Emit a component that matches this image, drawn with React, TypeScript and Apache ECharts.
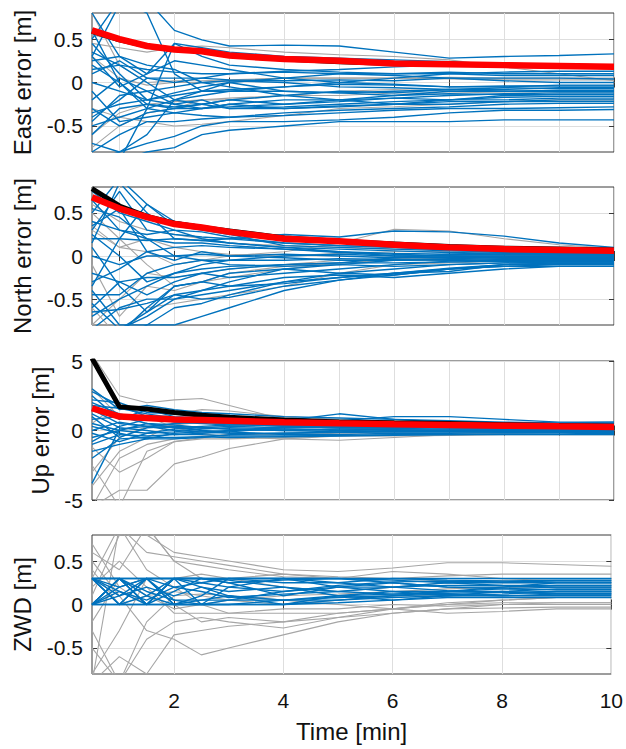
import React, { useEffect, useRef } from 'react';
import * as echarts from 'echarts';

// ---------- data ----------
const TIME = [0.5, 1, 1.5, 2, 2.5, 3, 4, 5, 6, 7, 8, 9, 10];

const X_TICKS_FINE = [1, 2, 3, 4, 5, 6, 7, 8, 9, 10];
const X_TICKS_COARSE = [2, 4, 6, 8, 10];
const Y_TICKS_SMALL = [-0.5, 0, 0.5];
const Y_TICKS_UP = [-5, 0, 5];

const PANEL_NAMES = ['East error [m]', 'North error [m]', 'Up error [m]', 'ZWD [m]'];
const X_NAME = 'Time [min]';

const EAST_BLUE = [
  [0.3, 0.9, 0.95, 0.6, 0.49, 0.42, 0.43, 0.42, 0.35, 0.28, 0.3, 0.31, 0.33],
  [0.8, 0.3, 0.1, 0.45, 0.4, 0.35, 0.3, 0.28, 0.26, 0.24, 0.2, 0.2, 0.2],
  [0.35, 0.2, 0.15, 0.12, 0.1, 0.1, 0.13, 0.15, 0.18, 0.2, 0.2, 0.19, 0.2],
  [0.2, 0.0, -0.3, -0.2, -0.15, -0.1, -0.05, 0.0, 0.05, 0.1, 0.12, 0.13, 0.13],
  [0.1, 0.25, 0.05, 0.05, 0.05, 0.03, 0.02, 0.03, 0.02, 0.05, 0.05, 0.05, 0.04],
  [-0.4, -0.2, 0.05, 0.0, 0.05, 0.1, 0.12, 0.1, 0.08, 0.05, 0.02, 0.0, 0.0],
  [0.0, -0.1, -0.2, -0.15, -0.1, -0.08, -0.05, -0.02, -0.03, -0.05, -0.04, -0.04, -0.04],
  [-0.6, -0.3, -0.25, -0.3, -0.25, -0.2, -0.15, -0.1, -0.12, -0.08, -0.06, -0.07, -0.07],
  [0.45, 0.1, -0.2, -0.25, -0.3, -0.25, -0.2, -0.2, -0.15, -0.1, -0.1, -0.1, -0.1],
  [-0.3, -0.5, -0.35, -0.3, -0.3, -0.28, -0.25, -0.22, -0.18, -0.15, -0.13, -0.12, -0.12],
  [-0.7, -0.8, -0.6, -0.2, -0.1, 0.0, -0.1, -0.12, -0.15, -0.13, -0.14, -0.14, -0.14],
  [0.6, 0.0, -0.25, -0.28, -0.25, -0.2, -0.25, -0.2, -0.18, -0.2, -0.17, -0.16, -0.16],
  [-0.2, 0.05, -0.1, -0.25, -0.2, -0.3, -0.28, -0.25, -0.22, -0.2, -0.2, -0.18, -0.18],
  [-0.5, -0.4, -0.3, -0.35, -0.3, -0.25, -0.3, -0.28, -0.25, -0.22, -0.22, -0.2, -0.2],
  [0.15, 0.2, 0.0, -0.2, -0.25, -0.3, -0.3, -0.27, -0.25, -0.25, -0.22, -0.22, -0.22],
  [-0.1, -0.45, -0.4, -0.35, -0.38, -0.4, -0.35, -0.32, -0.3, -0.28, -0.25, -0.24, -0.24],
  [-0.8, -0.6, -0.45, -0.45, -0.42, -0.4, -0.38, -0.35, -0.32, -0.3, -0.3, -0.29, -0.28],
  [-0.9, -0.8, -0.7, -0.62, -0.5, -0.45, -0.45, -0.43, -0.4, -0.35, -0.32, -0.32, -0.31],
  [-1.0, -0.9, -0.8, -0.75, -0.6, -0.55, -0.5, -0.45, -0.45, -0.45, -0.43, -0.43, -0.43],
  [0.3, -0.05, 0.1, 0.25, 0.2, 0.15, 0.05, 0.0, -0.02, -0.05, -0.05, -0.03, -0.03],
  [-0.35, -0.25, -0.2, -0.12, -0.05, 0.0, 0.05, 0.1, 0.1, 0.12, 0.1, 0.1, 0.1],
  [0.25, 0.3, 0.2, 0.15, 0.0, -0.05, -0.15, -0.2, -0.25, -0.2, -0.15, -0.14, -0.14],
  [0.5, 0.95, 0.8, 0.1, -0.1, -0.1, -0.1, -0.12, -0.1, -0.08, -0.1, -0.09, -0.09],
  [-0.45, -0.15, -0.1, -0.05, 0.0, 0.02, 0.0, -0.05, -0.06, -0.08, -0.08, -0.06, -0.06],
  [-1.2, -0.9, -0.3, 0.45, 0.3, 0.2, 0.15, 0.12, 0.1, 0.1, 0.08, 0.08, 0.08],
];
const EAST_GRAY = [
  [0.55, 0.47, 0.42, 0.38, 0.36, 0.32, 0.27, 0.25, 0.23, 0.22, 0.2, 0.19, 0.18],
  [0.8, 0.2, 0.0, 0.02, 0.02, 0.03, 0.05, 0.05, 0.05, 0.04, 0.03, 0.03, 0.03],
  [0.3, 0.05, -0.03, 0.0, 0.0, 0.02, 0.05, 0.05, 0.05, 0.06, 0.05, 0.05, 0.05],
  [-0.3, -0.4, -0.45, -0.5, -0.48, -0.45, -0.38, -0.3, -0.28, -0.25, -0.22, -0.2, -0.2],
  [-0.6, -0.35, -0.25, -0.22, -0.2, -0.18, -0.15, -0.1, -0.08, -0.1, -0.1, -0.1, -0.1],
  [0.45, 0.4, 0.35, 0.4, 0.42, 0.4, 0.35, 0.32, 0.3, 0.26, 0.18, 0.1, 0.02],
  [-0.75, -0.5, -0.35, -0.3, -0.2, -0.2, -0.15, -0.15, -0.12, -0.12, -0.11, -0.11, -0.11],
];
const EAST_BLACK = [0.59, 0.49, 0.42, 0.38, 0.36, 0.31, 0.27, 0.24, 0.22, 0.21, 0.2, 0.19, 0.18];
const EAST_RED = [0.6, 0.5, 0.42, 0.38, 0.36, 0.31, 0.27, 0.25, 0.22, 0.21, 0.2, 0.19, 0.18];

const NORTH_BLUE = [
  [0.5, 0.9, 0.6, 0.4, 0.35, 0.3, 0.22, 0.17, 0.15, 0.12, 0.1, 0.08, 0.08],
  [0.15, 0.85, 0.5, 0.2, 0.18, 0.2, 0.25, 0.22, 0.29, 0.28, 0.23, 0.15, 0.1],
  [-0.35, 0.2, 0.6, 0.35, 0.3, 0.25, 0.12, 0.1, 0.08, 0.06, 0.05, 0.05, 0.05],
  [0.4, 0.3, 0.25, 0.3, 0.2, 0.15, 0.1, 0.08, 0.06, 0.04, 0.03, 0.03, 0.03],
  [0.65, 0.3, 0.2, 0.15, 0.15, 0.12, 0.08, 0.05, 0.03, 0.02, 0.02, 0.02, 0.02],
  [0.2, 0.2, 0.18, 0.2, 0.18, 0.15, 0.1, 0.05, 0.0, 0.0, 0.0, 0.0, 0.0],
  [0.0, -0.1, 0.0, 0.0, 0.02, 0.0, 0.02, 0.0, -0.02, -0.02, -0.01, 0.0, 0.0],
  [-0.45, -0.45, -0.2, -0.1, -0.05, -0.05, 0.0, 0.02, 0.0, 0.0, -0.02, -0.03, -0.03],
  [0.25, 0.0, -0.3, -0.2, -0.1, -0.05, -0.05, -0.03, -0.04, -0.05, -0.05, -0.05, -0.05],
  [-0.6, -0.3, -0.45, -0.3, -0.2, -0.15, -0.1, -0.08, -0.08, -0.07, -0.06, -0.06, -0.06],
  [-0.85, -0.6, -0.5, -0.5, -0.4, -0.3, -0.15, -0.1, -0.12, -0.1, -0.08, -0.08, -0.08],
  [-0.95, -0.85, -0.7, -0.5, -0.45, -0.4, -0.3, -0.25, -0.2, -0.15, -0.12, -0.1, -0.1],
  [-0.65, -0.62, -0.55, -0.45, -0.5, -0.48, -0.35, -0.28, -0.22, -0.15, -0.12, -0.12, -0.12],
  [-1.0, -0.9, -0.6, -0.35, -0.3, -0.35, -0.32, -0.25, -0.2, -0.18, -0.1, -0.08, -0.08],
  [-0.4, -0.8, -0.8, -0.6, -0.55, -0.45, -0.3, -0.2, -0.15, -0.1, -0.08, -0.07, -0.07],
  [0.55, 0.45, 0.2, 0.0, -0.05, -0.1, -0.12, -0.1, -0.05, -0.03, -0.02, -0.02, -0.02],
  [-0.2, -0.3, -0.25, -0.25, -0.2, -0.25, -0.2, -0.15, -0.1, -0.06, -0.04, -0.04, -0.04],
  [0.3, 0.75, 0.3, 0.25, 0.22, 0.2, 0.15, 0.12, 0.1, 0.08, 0.07, 0.06, 0.06],
  [-0.7, -0.5, -0.35, -0.2, -0.15, -0.12, -0.1, -0.08, -0.02, 0.02, 0.04, 0.05, 0.05],
  [0.1, -0.35, -0.65, -0.35, -0.3, -0.2, -0.15, -0.2, -0.22, -0.15, -0.1, -0.1, -0.1],
  [-0.55, -0.85, -0.65, -0.45, -0.4, -0.35, -0.25, -0.22, -0.25, -0.2, -0.15, -0.12, -0.12],
  [0.75, 0.5, 0.4, 0.3, 0.28, 0.22, 0.15, 0.12, 0.1, 0.07, 0.05, 0.05, 0.05],
  [-0.3, -0.15, 0.05, 0.1, 0.12, 0.1, 0.08, 0.04, 0.02, 0.0, 0.0, 0.0, 0.0],
  [0.35, 0.55, 0.05, -0.05, 0.05, 0.0, -0.02, -0.05, -0.05, -0.04, -0.03, -0.02, -0.02],
  [-1.1, -0.95, -0.8, -0.8, -0.7, -0.6, -0.4, -0.28, -0.2, -0.14, -0.1, -0.09, -0.09],
];
const NORTH_GRAY = [
  [0.3, 0.1, 0.05, -0.1, -0.05, 0.0, 0.05, 0.15, 0.31, 0.29, 0.2, 0.13, 0.09],
  [0.5, 0.2, -0.1, -0.35, -0.3, -0.25, -0.15, -0.08, -0.05, -0.02, 0.0, 0.0, 0.0],
  [-0.8, -0.5, -0.2, -0.25, -0.2, -0.15, -0.1, -0.05, -0.03, -0.02, -0.02, -0.02, -0.02],
  [-0.6, -0.95, -0.6, -0.55, -0.5, -0.45, -0.35, -0.2, -0.1, -0.08, -0.06, -0.06, -0.06],
  [0.35, 0.1, 0.2, 0.1, 0.05, 0.02, 0.0, 0.03, 0.05, 0.05, 0.05, 0.05, 0.05],
  [-0.1, -0.7, -0.35, -0.4, -0.3, -0.2, -0.12, -0.08, -0.05, -0.05, -0.04, -0.04, -0.04],
  [0.6, 0.4, 0.3, 0.25, 0.2, 0.15, 0.12, 0.1, 0.08, 0.07, 0.06, 0.05, 0.05],
];
const NORTH_BLACK = [0.78, 0.58, 0.46, 0.38, 0.33, 0.29, 0.21, 0.17, 0.14, 0.11, 0.09, 0.08, 0.07];
const NORTH_RED = [0.68, 0.55, 0.45, 0.37, 0.33, 0.28, 0.2, 0.17, 0.13, 0.1, 0.08, 0.07, 0.06];

const UP_BLUE = [
  [3.0, 1.5, 1.8, 1.5, 1.3, 1.2, 1.0, 0.9, 0.8, 0.7, 0.6, 0.55, 0.6],
  [2.5, 0.8, 1.5, 1.0, 0.9, 0.8, 0.7, 1.2, 0.8, 0.6, 0.4, 0.45, 0.5],
  [2.0, 1.2, 0.8, 0.7, 0.6, 0.5, 0.4, 0.3, 0.35, 0.3, 0.3, 0.35, 0.4],
  [1.5, 0.5, 0.3, 0.5, 0.6, 0.5, 0.3, 0.2, 0.2, 0.25, 0.2, 0.2, 0.2],
  [1.0, -0.5, 0.2, 0.3, 0.2, 0.1, 0.0, 0.1, 0.1, 0.1, 0.1, 0.1, 0.1],
  [0.5, 0.0, -0.2, 0.1, 0.2, 0.1, 0.0, -0.1, 0.0, 0.0, 0.05, 0.0, 0.0],
  [0.0, 0.6, 0.3, 0.0, -0.1, -0.2, -0.2, -0.1, -0.1, -0.1, -0.1, -0.05, -0.05],
  [-0.5, 0.0, 0.5, 0.2, 0.0, -0.1, -0.3, -0.3, -0.2, -0.2, -0.15, -0.15, -0.15],
  [-1.0, -0.3, -0.4, -0.3, -0.3, -0.4, -0.4, -0.35, -0.3, -0.3, -0.25, -0.25, -0.2],
  [-2.0, -0.6, -0.5, -0.5, -0.45, -0.5, -0.45, -0.4, -0.35, -0.3, -0.3, -0.3, -0.3],
  [-3.8, 0.1, 0.3, 0.2, 0.3, 0.4, 0.5, 0.4, 0.3, 0.3, 0.3, 0.25, 0.25],
  [1.8, 1.6, 1.2, 0.9, 0.8, 0.7, 0.6, 0.5, 0.5, 0.45, 0.4, 0.35, 0.35],
  [0.8, 1.0, 0.5, 0.4, 0.2, 0.3, 0.2, 0.25, 0.3, 0.2, 0.15, 0.15, 0.15],
  [-0.2, -0.8, -0.2, -0.1, 0.1, 0.2, 0.1, 0.0, -0.05, -0.05, 0.0, 0.0, 0.0],
  [2.2, 2.0, 1.3, 1.2, 1.0, 0.9, 0.8, 0.7, 1.0, 1.0, 0.8, 0.6, 0.6],
  [-1.5, -1.0, -0.6, -0.2, -0.1, 0.0, 0.1, 0.1, 0.05, 0.0, -0.05, -0.05, -0.05],
  [1.2, 0.2, 0.0, -0.3, -0.2, -0.1, 0.2, 0.3, 0.35, 0.3, 0.25, 0.2, 0.2],
  [0.3, -0.2, -0.6, -0.6, -0.5, -0.3, -0.2, -0.15, -0.1, -0.1, -0.1, -0.1, -0.1],
  [2.8, 1.8, 1.0, 0.6, 0.5, 0.4, 0.35, 0.3, 0.25, 0.2, 0.15, 0.1, 0.1],
  [-0.8, 0.3, 0.8, 0.9, 0.7, 0.5, 0.3, 0.2, 0.15, 0.1, 0.1, 0.05, 0.05],
];
const UP_GRAY = [
  [5.5, 2.5, 2.0, 2.2, 2.3, 1.8, 0.8, 0.6, 0.5, 0.4, 0.35, 0.3, 0.3],
  [-5.5, -4.3, -4.3, -2.4, -1.9, -1.3, -0.6, -0.4, -0.3, -0.2, -0.2, -0.1, -0.1],
  [-2.5, -5.5, -1.5, -0.8, -0.5, -0.3, -0.3, -0.2, -0.2, -0.2, -0.1, -0.1, -0.1],
  [-4.0, -1.5, -0.5, 0.5, 0.6, 0.5, 0.4, 0.3, 0.25, 0.2, 0.2, 0.2, 0.2],
  [-1.2, -3.0, -2.0, -0.8, -0.6, -0.6, -0.5, -0.4, -0.4, -0.35, -0.3, -0.3, -0.3],
  [3.0, 1.0, 0.8, 1.2, 1.5, 1.4, 1.0, 0.8, 0.6, 0.5, 0.4, 0.3, 0.3],
  [-3.0, -0.5, 0.3, 0.4, 0.6, 0.8, 0.9, 0.6, 0.4, 0.3, 0.3, 0.2, 0.2],
  [0.5, 2.0, 1.0, 0.2, -0.2, -0.5, -0.6, -0.7, -0.5, -0.3, -0.2, -0.15, -0.15],
  [-5.5, -2.0, -1.0, -0.6, -0.4, -0.3, -0.2, -0.1, -0.1, -0.05, 0.0, 0.0, 0.0],
];
const UP_BLACK = [5.2, 1.7, 1.55, 1.3, 1.1, 0.95, 0.75, 0.62, 0.55, 0.5, 0.42, 0.36, 0.3];
const UP_RED = [1.6, 1.0, 0.9, 0.8, 0.75, 0.7, 0.6, 0.52, 0.45, 0.4, 0.35, 0.3, 0.26];

const ZWD_BLUE = [
  [0.0, 0.3, 0.3, 0.3, 0.3, 0.3, 0.3, 0.3, 0.3, 0.3, 0.3, 0.3, 0.3],
  [0.3, 0.0, 0.3, 0.0, 0.0, 0.0, 0.0, 0.05, 0.1, 0.12, 0.1, 0.1, 0.1],
  [0.0, 0.0, 0.0, 0.0, 0.0, 0.0, 0.0, 0.02, 0.05, 0.08, 0.08, 0.08, 0.08],
  [0.3, 0.3, 0.0, 0.3, 0.25, 0.3, 0.3, 0.3, 0.28, 0.25, 0.25, 0.25, 0.25],
  [0.0, 0.3, 0.0, 0.0, 0.05, 0.1, 0.0, 0.1, 0.15, 0.15, 0.18, 0.2, 0.2],
  [0.3, 0.1, 0.2, 0.1, 0.2, 0.15, 0.2, 0.15, 0.12, 0.15, 0.15, 0.12, 0.12],
  [0.0, 0.2, 0.3, 0.2, 0.25, 0.2, 0.3, 0.2, 0.2, 0.22, 0.22, 0.22, 0.22],
  [0.3, 0.15, 0.0, 0.15, 0.3, 0.25, 0.1, 0.2, 0.25, 0.2, 0.18, 0.17, 0.17],
  [0.0, 0.3, 0.15, 0.05, 0.0, 0.05, 0.15, 0.2, 0.15, 0.1, 0.12, 0.15, 0.15],
  [0.3, 0.0, 0.1, 0.3, 0.3, 0.28, 0.2, 0.1, 0.05, 0.1, 0.15, 0.18, 0.18],
  [0.0, 0.1, 0.3, 0.0, 0.1, 0.3, 0.25, 0.25, 0.3, 0.28, 0.27, 0.28, 0.28],
  [0.3, 0.3, 0.3, 0.05, 0.05, 0.05, 0.05, 0.05, 0.08, 0.1, 0.1, 0.12, 0.12],
  [0.0, 0.15, 0.05, 0.2, 0.15, 0.08, 0.12, 0.15, 0.2, 0.25, 0.22, 0.2, 0.2],
  [0.3, 0.2, 0.3, 0.3, 0.2, 0.1, 0.05, 0.08, 0.1, 0.15, 0.2, 0.25, 0.25],
  [0.0, 0.0, 0.3, 0.3, 0.3, 0.25, 0.28, 0.3, 0.25, 0.2, 0.2, 0.22, 0.22],
  [0.3, 0.3, 0.1, 0.0, 0.0, 0.0, 0.05, 0.1, 0.12, 0.13, 0.14, 0.15, 0.15],
  [0.0, 0.3, 0.0, 0.3, 0.0, 0.2, 0.15, 0.22, 0.26, 0.27, 0.26, 0.27, 0.27],
  [0.3, 0.0, 0.0, 0.3, 0.3, 0.3, 0.3, 0.25, 0.2, 0.16, 0.14, 0.13, 0.13],
];
const ZWD_GRAY = [
  [0.9, 1.0, 0.8, 0.6, 0.55, 0.5, 0.4, 0.38, 0.42, 0.48, 0.48, 0.46, 0.44],
  [0.6, 0.4, 0.9, 0.5, 0.45, 0.4, 0.32, 0.3, 0.38, 0.35, 0.3, 0.3, 0.3],
  [0.3, 0.9, 0.6, 0.55, 0.5, 0.45, 0.35, 0.3, 0.3, 0.33, 0.35, 0.35, 0.35],
  [-0.9, 0.9, 0.4, 0.2, 0.0, -0.1, -0.1, -0.1, -0.05, 0.0, 0.05, 0.08, 0.08],
  [-0.8, -0.3, 0.3, 0.0, -0.2, -0.15, -0.2, -0.1, -0.05, 0.02, 0.05, 0.08, 0.08],
  [0.5, 0.1, -0.3, -0.4, -0.58, -0.5, -0.35, -0.2, -0.1, -0.05, 0.0, 0.02, 0.02],
  [-0.5, -0.9, -0.4, -0.2, -0.15, -0.2, -0.27, -0.15, -0.05, 0.0, 0.02, 0.02, 0.02],
  [0.2, 0.5, 0.2, -0.1, -0.1, -0.1, -0.05, -0.05, 0.0, -0.02, 0.0, 0.0, 0.0],
  [-0.2, 0.3, 0.1, -0.05, 0.0, 0.05, 0.1, 0.12, 0.15, 0.18, 0.2, 0.2, 0.2],
  [0.7, 0.2, 0.0, 0.3, 0.35, 0.3, 0.2, 0.15, 0.2, 0.25, 0.28, 0.3, 0.3],
  [-0.9, -0.6, -0.8, -0.35, -0.3, -0.25, -0.2, -0.15, -0.1, -0.05, -0.04, -0.03, -0.03],
  [0.1, 0.8, 0.9, 0.5, 0.3, 0.3, 0.35, 0.32, 0.3, 0.27, 0.25, 0.25, 0.25],
  [-0.3, -0.9, -0.2, 0.1, 0.12, 0.1, 0.05, 0.0, -0.05, -0.1, -0.08, -0.05, -0.05],
  [0.4, 0.0, 0.1, 0.15, 0.1, 0.05, 0.0, 0.05, 0.1, 0.1, 0.1, 0.1, 0.1],
];

// ---------- styling / layout ----------
const FONT = '"Liberation Sans", Arial, Helvetica, sans-serif';
const BLUE = '#0072BD';
const GRAY = '#a6a6a6';
const AXIS = '#3a3a3a';
const GRID = '#dedede';
const TEXT = '#111';

type Panel = {
  name: string;
  blue: number[][];
  gray: number[][];
  black: number[] | null;
  red: number[] | null;
  yMin: number;
  yMax: number;
  yTicks: number[];
  xTicks: number[];
  nameGap: number;
  top: number;
  height: number;
};

const PANELS: Panel[] = [
  { name: PANEL_NAMES[0], blue: EAST_BLUE, gray: EAST_GRAY, black: EAST_BLACK, red: EAST_RED, yMin: -0.8, yMax: 0.8, yTicks: Y_TICKS_SMALL, xTicks: X_TICKS_FINE, nameGap: 58, top: 13, height: 139 },
  { name: PANEL_NAMES[1], blue: NORTH_BLUE, gray: NORTH_GRAY, black: NORTH_BLACK, red: NORTH_RED, yMin: -0.8, yMax: 0.8, yTicks: Y_TICKS_SMALL, xTicks: X_TICKS_FINE, nameGap: 58, top: 187, height: 138 },
  { name: PANEL_NAMES[2], blue: UP_BLUE, gray: UP_GRAY, black: UP_BLACK, red: UP_RED, yMin: -5, yMax: 5, yTicks: Y_TICKS_UP, xTicks: X_TICKS_FINE, nameGap: 40, top: 361, height: 139 },
  { name: PANEL_NAMES[3], blue: ZWD_BLUE, gray: ZWD_GRAY, black: null, red: null, yMin: -0.8, yMax: 0.8, yTicks: Y_TICKS_SMALL, xTicks: X_TICKS_COARSE, nameGap: 58, top: 535, height: 139 },
];

function toPoints(vals: number[]) {
  return TIME.map((t, k) => [t, vals[k]]);
}

function buildOption() {
  const grid: any[] = [];
  const xAxis: any[] = [];
  const yAxis: any[] = [];
  const series: any[] = [];

  PANELS.forEach((p, i) => {
    grid.push({
      left: 92,
      right: 12,
      top: p.top,
      height: p.height,
      show: true,
      borderColor: AXIS,
      borderWidth: 1,
      backgroundColor: '#fff',
      containLabel: false,
    });
    const isLast = i === PANELS.length - 1;
    const tick = { show: true, inside: true, length: 5, lineStyle: { color: AXIS, width: 1 }, customValues: p.xTicks };
    xAxis.push({
      type: 'value',
      gridIndex: i,
      min: 0.5,
      max: 10,
      position: 'bottom',
      axisLine: { show: false },
      axisTick: tick,
      axisLabel: {
        show: isLast,
        customValues: p.xTicks,
        fontSize: 21,
        fontFamily: FONT,
        color: TEXT,
        margin: 16,
      },
      splitLine: { show: true, lineStyle: { color: GRID, width: 1 } },
      name: isLast ? X_NAME : '',
      nameLocation: 'middle',
      nameGap: 45,
      nameTextStyle: { fontSize: 24, fontFamily: FONT, color: TEXT },
    });
    xAxis.push({
      type: 'value',
      gridIndex: i,
      min: 0.5,
      max: 10,
      position: 'top',
      axisLine: { show: false },
      axisTick: tick,
      axisLabel: { show: false },
      splitLine: { show: false },
    });
    const ytick = { show: true, inside: true, length: 5, lineStyle: { color: AXIS, width: 1 }, customValues: p.yTicks };
    yAxis.push({
      type: 'value',
      gridIndex: i,
      min: p.yMin,
      max: p.yMax,
      position: 'left',
      axisLine: { show: false },
      axisTick: ytick,
      axisLabel: {
        show: true,
        customValues: p.yTicks,
        fontSize: 21,
        fontFamily: FONT,
        color: TEXT,
        margin: 9,
      },
      splitLine: { show: true, lineStyle: { color: GRID, width: 1 } },
      name: p.name,
      nameLocation: 'middle',
      nameGap: p.nameGap,
      nameRotate: 90,
      nameTextStyle: { fontSize: 24, fontFamily: FONT, color: TEXT },
    });
    yAxis.push({
      type: 'value',
      gridIndex: i,
      min: p.yMin,
      max: p.yMax,
      position: 'right',
      axisLine: { show: false },
      axisTick: ytick,
      axisLabel: { show: false },
      splitLine: { show: false },
    });

    const xi = i * 2;
    const yi = i * 2;
    const common = { type: 'line', xAxisIndex: xi, yAxisIndex: yi, showSymbol: false, symbol: 'none', silent: true, clip: true };
    p.gray.forEach((vals) => {
      series.push({ ...common, data: toPoints(vals), z: 2, lineStyle: { color: GRAY, width: 1.1 } });
    });
    p.blue.forEach((vals) => {
      series.push({ ...common, data: toPoints(vals), z: 3, lineStyle: { color: BLUE, width: 1.4 } });
    });
    if (p.black) {
      series.push({ ...common, data: toPoints(p.black), z: 4, lineStyle: { color: '#000', width: 5 } });
    }
    if (p.red) {
      series.push({ ...common, data: toPoints(p.red), z: 5, lineStyle: { color: '#ff0000', width: 6.5 } });
    }
  });

  return {
    animation: false,
    backgroundColor: '#fff',
    textStyle: { fontFamily: FONT },
    grid,
    xAxis,
    yAxis,
    series,
  };
}

export default function App() {
  const ref = useRef<HTMLDivElement>(null);
  useEffect(() => {
    if (!ref.current) return;
    const chart = echarts.init(ref.current, undefined, { renderer: 'svg' });
    chart.setOption(buildOption() as any);
    return () => chart.dispose();
  }, []);
  return (
    <div
      ref={ref}
      style={{ position: 'absolute', left: 0, top: 0, width: 626, height: 749, background: '#fff' }}
    />
  );
}
